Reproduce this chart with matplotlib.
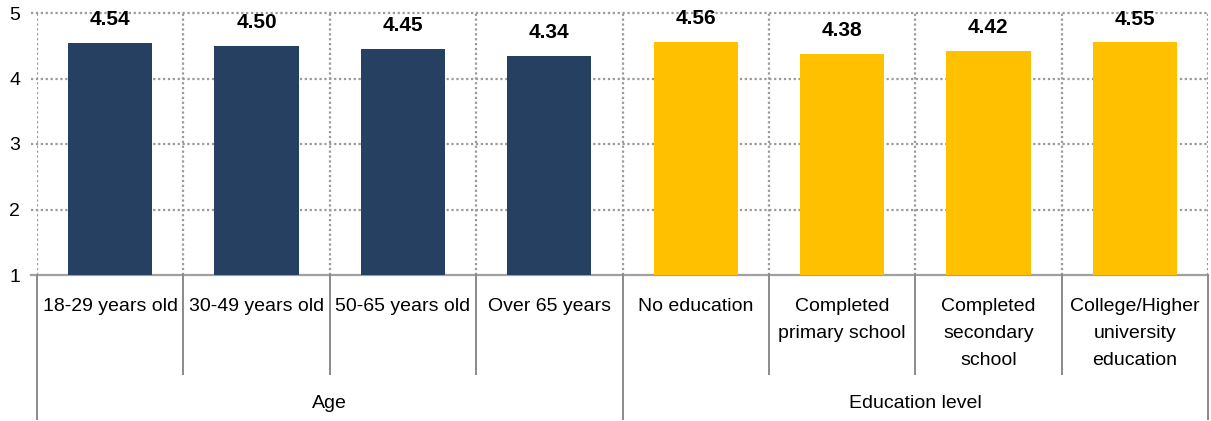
import matplotlib
matplotlib.use("Agg")
import matplotlib.pyplot as plt
import matplotlib.transforms as mtransforms

plt.rcParams['font.family'] = ['Liberation Sans', 'DejaVu Sans']

# category labels, scores and grouping
categories = ["18-29 years old", "30-49 years old", "50-65 years old", "Over 65 years",
              "No education", "Completed\nprimary school", "Completed\nsecondary\nschool",
              "College/Higher\nuniversity\neducation"]
scores = [4.54, 4.50, 4.45, 4.34, 4.56, 4.38, 4.42, 4.55]
groups = ["Age", "Education level"]
group_sizes = [4, 4]
group_colors = ["#264061", "#FFC000"]
y_ticks = [1, 2, 3, 4, 5]

W, H = 1211, 421
fig = plt.figure(figsize=(W / 100, H / 100), dpi=100)
left, right, top, bottom = 37, 1208, 13, 275
ax = fig.add_axes([left / W, 1 - bottom / H, (right - left) / W, (bottom - top) / H])

n = len(categories)
colors = []
for size, c in zip(group_sizes, group_colors):
    colors += [c] * size

xs = [i + 0.5 for i in range(n)]
base = y_ticks[0]
ax.bar(xs, [s - base for s in scores], bottom=base, width=0.575, color=colors, zorder=3)

for x, s in zip(xs, scores):
    ax.annotate(f"{s:.2f}", (x, s), xytext=(0, 10), textcoords="offset points",
                ha="center", va="bottom", fontsize=15, fontweight="bold", zorder=4)

ax.set_xlim(0, n)
ax.set_ylim(y_ticks[0], y_ticks[-1])
for side in ax.spines.values():
    side.set_visible(False)
ax.set_xticks([])
ax.set_yticks(y_ticks)
ax.set_yticklabels([str(t) for t in y_ticks], fontsize=14)
ax.tick_params(axis="y", length=0, pad=12)

grid = dict(color="#9a9a9a", lw=1.6, ls=(0, (1, 1.2)), zorder=1)
blend_y = mtransforms.blended_transform_factory(ax.transAxes, ax.transData)
for t in y_ticks[1:]:
    ax.plot([-6 / (right - left), 1], [t, t], transform=blend_y, clip_on=False, **grid)
for i in range(n + 1):
    ax.axvline(i, **grid)

# category axis line and separators below the plot
ax.plot([-6 / (right - left), 1], [base, base], transform=blend_y, clip_on=False,
        color="#a0a0a0", lw=1.6, zorder=2)
blend_x = mtransforms.blended_transform_factory(ax.transData, ax.transAxes)
plot_h = bottom - top
short_end = -(374 - bottom) / plot_h
long_end = -(419 - bottom) / plot_h
group_edges = [0]
for size in group_sizes:
    group_edges.append(group_edges[-1] + size)
for i in range(n + 1):
    end = long_end if i in group_edges else short_end
    ax.plot([i, i], [0, end], transform=blend_x, clip_on=False, color="#8a8a8a", lw=1.4)

for x, lab in zip(xs, categories):
    ax.text(x, -(298 - bottom) / plot_h, lab, transform=blend_x, ha="center", va="top",
            fontsize=14, linespacing=1.78)

for g, a, b in zip(groups, group_edges[:-1], group_edges[1:]):
    ax.text((a + b) / 2, -(404 - bottom) / plot_h, g, transform=blend_x, ha="center",
            va="center", fontsize=14)

fig.savefig("out.png", dpi=100)
